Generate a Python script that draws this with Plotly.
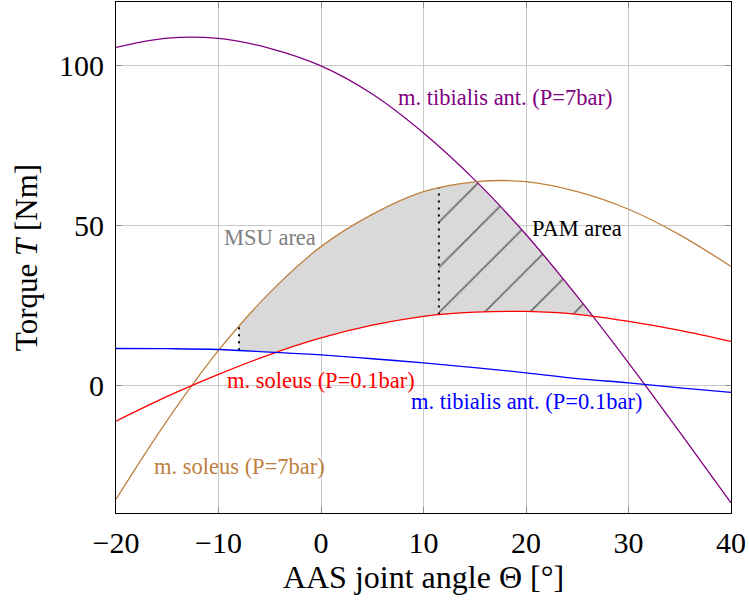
import numpy as np
import plotly.graph_objects as go

# ---- data ----
angle = [-20, -15, -10, -5, 0, 5, 10, 15, 20, 25, 30, 35, 40]
tib_7bar = [105.8, 108.7, 108.6, 105.5, 100.0, 91.2, 79.0, 64.3, 47.2, 27.8, 7.0, -14.7, -36.8]
sol_7bar = [-35.7, -11.0, 10.9, 29.0, 43.4, 53.5, 60.6, 63.7, 63.75, 60.6, 55.1, 47.1, 37.2]
sol_01bar = [-11.25, -3.5, 3.4, 9.6, 14.8, 18.8, 21.6, 22.9, 23.1, 22.2, 20.0, 17.2, 13.75]
tib_01bar = [11.5, 11.45, 11.2, 10.4, 9.5, 8.3, 7.0, 5.5, 3.9, 2.1, 0.75, -0.8, -2.2]

msu_left = -8.0     # left border of the MSU area
pam_left = 11.5     # border between MSU and PAM areas

x_ticks = [-20, -10, 0, 10, 20, 30, 40]
y_ticks = [0, 50, 100]

labels = [
    ("m. tibialis ant. (P=7bar)", 18.0, 90.0, "#800080"),
    ("MSU area", -5.0, 46.3, "#808080"),
    ("PAM area", 25.0, 49.0, "black"),
    ("m. soleus (P=0.1bar)", 0.0, 1.6, "#ff0000"),
    ("m. tibialis ant. (P=0.1bar)", 20.0, -5.2, "#0000ff"),
    ("m. soleus (P=7bar)", -8.0, -25.3, "#bf8040"),
]

C_TIB7 = "#800080"
C_SOL7 = "#bf8040"
C_SOL01 = "#ff0000"
C_TIB01 = "#0000ff"
FONT = "Liberation Serif, Times New Roman, serif"


def catmull(xs, ys, n=60):
    """Dense smooth boundary (used only to shape the shaded areas)."""
    x = np.asarray(xs, float)
    y = np.asarray(ys, float)
    px = np.concatenate([[2 * x[0] - x[1]], x, [2 * x[-1] - x[-2]]])
    py = np.concatenate([[2 * y[0] - y[1]], y, [2 * y[-1] - y[-2]]])
    t = np.linspace(0, 1, n, endpoint=False)
    X, Y = [], []
    for i in range(1, len(px) - 2):
        p0, p1, p2, p3 = py[i - 1], py[i], py[i + 1], py[i + 2]
        Y.append(0.5 * (2 * p1 + (-p0 + p2) * t + (2 * p0 - 5 * p1 + 4 * p2 - p3) * t ** 2
                        + (-p0 + 3 * p1 - 3 * p2 + p3) * t ** 3))
        X.append(px[i] + (px[i + 1] - px[i]) * t)
    X.append([x[-1]])
    Y.append([y[-1]])
    return np.concatenate(X), np.concatenate(Y)


curves = {k: catmull(angle, v) for k, v in
          dict(t7=tib_7bar, s7=sol_7bar, s01=sol_01bar, t01=tib_01bar).items()}


def f(key, q):
    X, Y = curves[key]
    return np.interp(q, X, Y)


def upper(q):
    return np.minimum(f("s7", q), f("t7", q))


def lower(q):
    return np.maximum(f("t01", q), f("s01", q))


g = np.linspace(msu_left, 35, 4000)
d = upper(g) - lower(g)
idx = np.where((g > 15) & (d <= 0))[0][0]
x_right = g[idx]

fig = go.Figure()

# gray area (whole region)
ga = np.linspace(msu_left, x_right, 600)
fig.add_trace(go.Scatter(
    x=np.concatenate([ga, ga[::-1]]),
    y=np.concatenate([upper(ga), lower(ga)[::-1]]),
    fill="toself", fillcolor="#d9d9d9", mode="lines",
    line=dict(width=0), hoverinfo="skip", showlegend=False))

# hatched PAM area
gp = np.linspace(pam_left, x_right, 400)
fig.add_trace(go.Scatter(
    x=np.concatenate([gp, gp[::-1]]),
    y=np.concatenate([upper(gp), lower(gp)[::-1]]),
    fill="toself", fillcolor="rgba(0,0,0,0)", mode="lines",
    fillpattern=dict(shape="/", size=32, solidity=0.05,
                     fgcolor="black", bgcolor="rgba(0,0,0,0)"),
    line=dict(width=0), hoverinfo="skip", showlegend=False))

# dotted borders
for xb in (msu_left, pam_left):
    fig.add_trace(go.Scatter(
        x=[xb, xb], y=[float(lower(xb)), float(upper(xb))], mode="lines",
        line=dict(color="black", width=2, dash="2px,5px"),
        hoverinfo="skip", showlegend=False))

# curves
for ys, col in ((tib_7bar, C_TIB7), (sol_7bar, C_SOL7),
                (sol_01bar, C_SOL01), (tib_01bar, C_TIB01)):
    fig.add_trace(go.Scatter(
        x=angle, y=ys, mode="lines",
        line=dict(color=col, width=1.3, shape="spline", smoothing=1.0),
        showlegend=False))

for text, lx, ly, col in labels:
    fig.add_annotation(x=lx, y=ly, text=text, showarrow=False,
                       font=dict(family=FONT, size=22.5, color=col),
                       xanchor="center", yanchor="middle")

axis_common = dict(
    showgrid=True, gridcolor="#c8c8c8", gridwidth=1,
    showline=True, linecolor="black", linewidth=1.2, mirror="ticks",
    ticks="inside", ticklen=6, tickcolor="#909090", tickwidth=1,
    zeroline=False, automargin=False,
    tickfont=dict(family=FONT, size=30, color="black"),
)

fig.update_layout(
    width=749, height=604,
    margin=dict(l=116, r=18, t=2, b=91),
    paper_bgcolor="white", plot_bgcolor="white",
    xaxis=dict(range=[-20, 40], tickvals=x_ticks, ticklabelstandoff=3,
               title=dict(text="AAS joint angle Θ [°]",
                          font=dict(family=FONT, size=32, color="black"),
                          standoff=6),
               **axis_common),
    yaxis=dict(range=[-40, 120], tickvals=y_ticks, ticklabelstandoff=5,
               title=dict(text="Torque <i>T</i> [Nm]",
                          font=dict(family=FONT, size=31, color="black"),
                          standoff=12),
               **axis_common),
)

fig.write_html("out.html",
               config={"displayModeBar": False},
               post_script="document.body.style.margin='0px';"
                           "document.body.style.padding='0px';")
